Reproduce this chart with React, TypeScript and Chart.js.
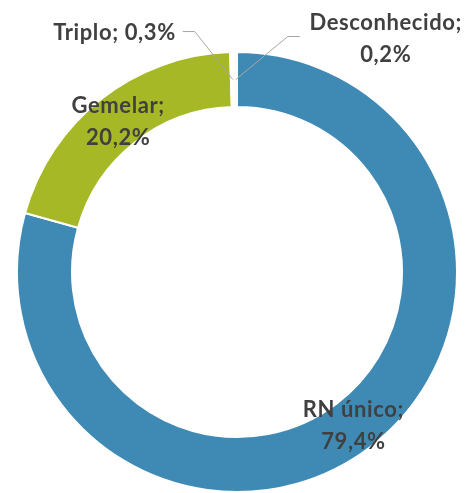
import React, { useEffect, useRef } from "react";
import { Chart, registerables } from "chart.js";

Chart.register(...registerables);

const categories = ["RN único", "Gemelar", "Triplo", "Desconhecido"];
const values = [79.4, 20.2, 0.3, 0.2];
const valueLabels = ["79,4%", "20,2%", "0,3%", "0,2%"];
const colors = ["#3F8AB5", "#A6B826", "#FFFFFF", "#FFFFFF"];

const FONT = "bold 22px Lato";
const TEXT_COLOR = "#404040";
const LEADER_COLOR = "#A6A6A6";

const labelPlugin = {
  id: "sliceLabels",
  afterDraw(chart: any) {
    const ctx = chart.ctx as CanvasRenderingContext2D;
    const meta = chart.getDatasetMeta(0);
    ctx.save();
    ctx.font = FONT;
    (ctx as any).letterSpacing = "0.6px";
    ctx.fillStyle = TEXT_COLOR;
    ctx.textBaseline = "middle";
    meta.data.forEach((arc: any, i: number) => {
      const p = arc.getProps(["x", "y", "startAngle", "endAngle", "innerRadius", "outerRadius"], true);
      const mid = (p.startAngle + p.endAngle) / 2;
      const r = (p.innerRadius + p.outerRadius) / 2;
      const ax = p.x + Math.cos(mid) * r;
      const ay = p.y + Math.sin(mid) * r;
      const name = categories[i] + ";";
      const val = valueLabels[i];
      if (i < 2) {
        ctx.textAlign = "center";
        ctx.fillText(name, ax, ay - 15);
        ctx.fillText(val, ax, ay + 17);
      } else if (i === 2) {
        ctx.strokeStyle = LEADER_COLOR;
        ctx.lineWidth = 1;
        ctx.beginPath();
        ctx.moveTo(ax, ay);
        ctx.lineTo(ax - 38, ay - 48);
        ctx.lineTo(ax - 50, ay - 48);
        ctx.stroke();
        ctx.textAlign = "right";
        ctx.fillText(name + " " + val, ax - 57, ay - 47);
      } else {
        ctx.strokeStyle = LEADER_COLOR;
        ctx.lineWidth = 1;
        ctx.beginPath();
        ctx.moveTo(ax, ay);
        ctx.lineTo(ax + 52, ay - 43);
        ctx.lineTo(ax + 64, ay - 43);
        ctx.stroke();
        ctx.textAlign = "center";
        ctx.fillText(name, ax + 150, ay - 57);
        ctx.fillText(val, ax + 150, ay - 25);
      }
    });
    ctx.restore();
  },
};

export default function App() {
  const ref = useRef<HTMLCanvasElement | null>(null);
  useEffect(() => {
    if (!ref.current) return;
    const chart = new Chart(ref.current, {
      type: "doughnut",
      data: {
        labels: categories,
        datasets: [
          {
            data: values,
            backgroundColor: colors,
            borderColor: "#FFFFFF",
            borderWidth: 2,
          },
        ],
      },
      options: {
        responsive: false,
        animation: false,
        cutout: "75%",
        layout: { padding: { left: 16, right: 15, top: 51, bottom: 0 } },
        plugins: {
          legend: { display: false },
          tooltip: { enabled: false },
        },
      },
      plugins: [labelPlugin],
    });
    return () => chart.destroy();
  }, []);
  return (
    <div style={{ position: "fixed", left: 0, top: 0, width: 473, height: 493, background: "#fff" }}>
      <canvas ref={ref} width={473} height={493} />
    </div>
  );
}
